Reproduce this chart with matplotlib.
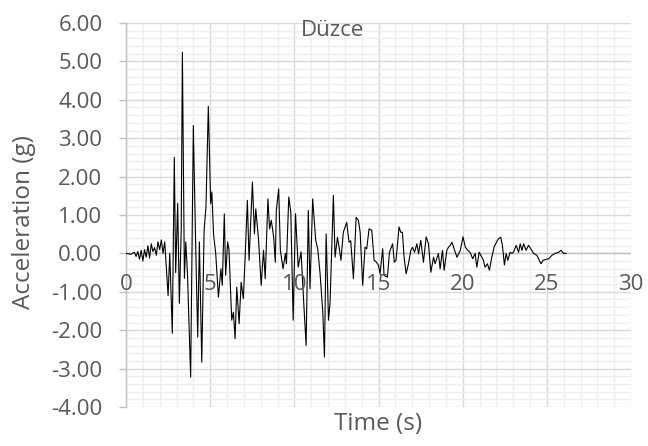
import matplotlib
matplotlib.use("Agg")
import matplotlib.pyplot as plt
from matplotlib.ticker import MultipleLocator

plt.rcParams['font.family'] = ['Open Sans', 'DejaVu Sans']

# acceleration record (time in s, acceleration in g)
time_s = [0.0, 0.3, 0.5, 0.6, 0.7, 0.8, 0.9, 1.0, 1.1, 1.2, 1.3, 1.4, 1.5, 1.6, 1.7,
          1.8, 1.9, 2.0, 2.1, 2.2, 2.3,
          2.4, 2.5, 2.6, 2.75, 2.87, 2.95, 3.07, 3.17, 3.28, 3.35, 3.47, 3.55, 3.65,
          3.84, 4.0, 4.13, 4.26, 4.36, 4.5, 4.64, 4.75, 4.89, 5.03, 5.1, 5.2, 5.33,
          5.49, 5.64, 5.72, 5.84, 5.92, 6.04, 6.12, 6.28, 6.38, 6.48, 6.58, 6.72,
          6.84, 6.97, 7.07, 7.21, 7.31, 7.51, 7.63, 7.71, 7.87, 8.03, 8.17, 8.27,
          8.43, 8.53, 8.63, 8.77, 8.87, 8.93, 9.07, 9.17, 9.33, 9.47, 9.53, 9.67,
          9.79, 9.93, 10.07, 10.23, 10.40, 10.54, 10.70, 10.83, 10.93, 11.09,
          11.27, 11.39, 11.53, 11.69, 11.79, 11.89, 12.03, 12.12, 12.32, 12.42,
          12.56, 12.66, 12.77, 12.91, 13.11, 13.25, 13.35, 13.51, 13.67, 13.81,
          13.91, 14.06, 14.20, 14.30, 14.44, 14.60, 14.74, 14.86, 15.00, 15.09,
          15.25, 15.33, 15.53, 15.65, 15.84, 15.94, 16.04, 16.22, 16.32, 16.42,
          16.52, 16.64, 16.78, 16.92, 17.02, 17.14, 17.28, 17.38, 17.51, 17.67,
          17.83, 17.97, 18.11, 18.27, 18.36, 18.56, 18.66, 18.80, 18.90, 19.06,
          19.16, 19.26, 19.36, 19.46, 19.66, 19.86, 20.02, 20.16, 20.30, 20.44,
          20.60, 20.74, 20.84, 20.98, 21.08, 21.23, 21.33, 21.47, 21.59, 21.73,
          21.87, 22.02, 22.12, 22.26, 22.36, 22.48, 22.58, 22.68, 22.82, 22.92,
          23.02, 23.18, 23.32, 23.42, 23.52, 23.62, 23.77, 23.91, 24.05, 24.21,
          24.41, 24.51, 24.65, 24.77, 24.91, 25.11, 25.30, 25.50, 25.70, 25.84,
          26.00, 26.14]
accel_g = [0.0, -0.02, 0.03, -0.08, 0.05, -0.15, 0.08, -0.2, 0.1, -0.1, 0.2, -0.12,
           0.25, 0.05, 0.15, -0.05, 0.3, 0.1, 0.35, 0.0, 0.3,
           -0.4, -1.1, 0.0, -2.08, 2.5, -0.5, 1.3, -1.3, 0.6, 5.24, -0.65, 0.3, -0.5,
           -3.22, 3.33, 0.4, -2.18, 0.3, -2.83, 0.6, 1.2, 3.83, 1.3, 1.6, 0.5, 0.0,
           -1.14, -0.4, -0.83, 1.03, -0.57, 0.3, 0.08, -1.74, -1.53, -2.22, -0.88,
           -1.83, -0.75, -1.18, -0.18, 1.38, -0.18, 1.86, 0.51, 1.16, 0.38, -0.83,
           0.08, -0.66, 1.42, 0.64, 0.86, 0.43, -0.23, 1.12, 1.68, 0.08, -0.4, 0.0,
           -0.27, 1.47, 1.08, -1.74, 1.03, -0.36, 0.04, -1.14, -2.4, 1.12, -0.92,
           1.42, 0.34, 0.12, -0.53, -1.53, -2.7, 0.51, -1.74, -1.31, 1.51, -0.1,
           0.42, 0.16, -0.18, 0.55, 0.81, 0.29, 0.33, -0.66, 0.94, 0.86, 0.55,
           -0.83, 0.16, 0.12, 0.64, 0.6, -0.18, -0.22, -0.31, -0.53, 0.12, -0.57,
           -0.62, 0.03, 0.25, -0.23, -0.18, 0.69, 0.55, 0.55, -0.1, -0.53, -0.27,
           0.08, 0.16, 0.03, 0.25, -0.01, 0.34, -0.23, 0.43, 0.25, -0.49, -0.1,
           -0.27, 0.0, -0.4, 0.08, -0.44, 0.08, 0.16, 0.21, 0.29, 0.16, -0.1, 0.08,
           0.43, 0.16, 0.08, 0.03, -0.14, 0.0, -0.36, 0.03, -0.05, -0.18, -0.36,
           -0.27, -0.44, -0.1, 0.17, 0.3, 0.38, 0.42, 0.21, -0.3, 0.0, -0.18, 0.03,
           0.0, 0.03, 0.21, 0.03, 0.25, 0.08, 0.25, 0.08, 0.21, 0.12, 0.0, -0.05,
           -0.14, -0.27, -0.18, -0.16, -0.14, -0.05, 0.0, 0.03, 0.08, 0.0, 0.0]

x_ticks = [0, 5, 10, 15, 20, 25, 30]
y_ticks = [6, 5, 4, 3, 2, 1, 0, -1, -2, -3, -4]

label_grey = '#595959'

fig = plt.figure(figsize=(6.48, 4.46), dpi=100)
ax = fig.add_axes([126 / 648, 1 - 407 / 446, 505 / 648, 384 / 446])

ax.set_xlim(0, 30)
ax.set_ylim(-4, 6)

# excel style gridlines
ax.xaxis.set_major_locator(MultipleLocator(5))
ax.xaxis.set_minor_locator(MultipleLocator(1))
ax.yaxis.set_major_locator(MultipleLocator(1))
ax.yaxis.set_minor_locator(MultipleLocator(0.2))
ax.grid(which='minor', color='#eeeeee', linewidth=1.0, zorder=0)
ax.grid(which='major', color='#d9d9d9', linewidth=1.0, zorder=0)
ax.set_axisbelow(True)

for side in ['top', 'right', 'bottom']:
    ax.spines[side].set_visible(False)
ax.spines['left'].set_color('#bfbfbf')
ax.spines['left'].set_linewidth(1.0)
ax.axhline(0, color='#bfbfbf', linewidth=1.0, zorder=1)

ax.plot(time_s, accel_g, color='black', linewidth=0.8, zorder=3)

ax.set_yticks(y_ticks)
ax.set_yticklabels(['%.2f' % v for v in y_ticks])
ax.tick_params(axis='y', which='major', length=5, color='#bfbfbf', width=1.0,
               labelsize=16, labelcolor=label_grey, pad=12)
ax.tick_params(axis='y', which='minor', length=0)
ax.tick_params(axis='x', which='both', length=0, labelbottom=False)

# x tick labels sit just under the zero line
for t in x_ticks:
    ax.annotate(str(t), xy=(t, 0), xytext=(0, -15), textcoords='offset points',
                ha='center', va='top', fontsize=16, color=label_grey,
                annotation_clip=False)

fig.text(378 / 648, 1 - 424 / 446, 'Time (s)', ha='center', va='center',
         fontsize=17.5, color=label_grey)
fig.text(24 / 648, 1 - 222 / 446, 'Acceleration (g)', ha='center', va='center',
         rotation=90, fontsize=17.5, color=label_grey)
fig.text(332 / 648, 1 - 30 / 446, 'Düzce', ha='center', va='center',
         fontsize=16, color=label_grey)

fig.savefig('out.png', dpi=100)
